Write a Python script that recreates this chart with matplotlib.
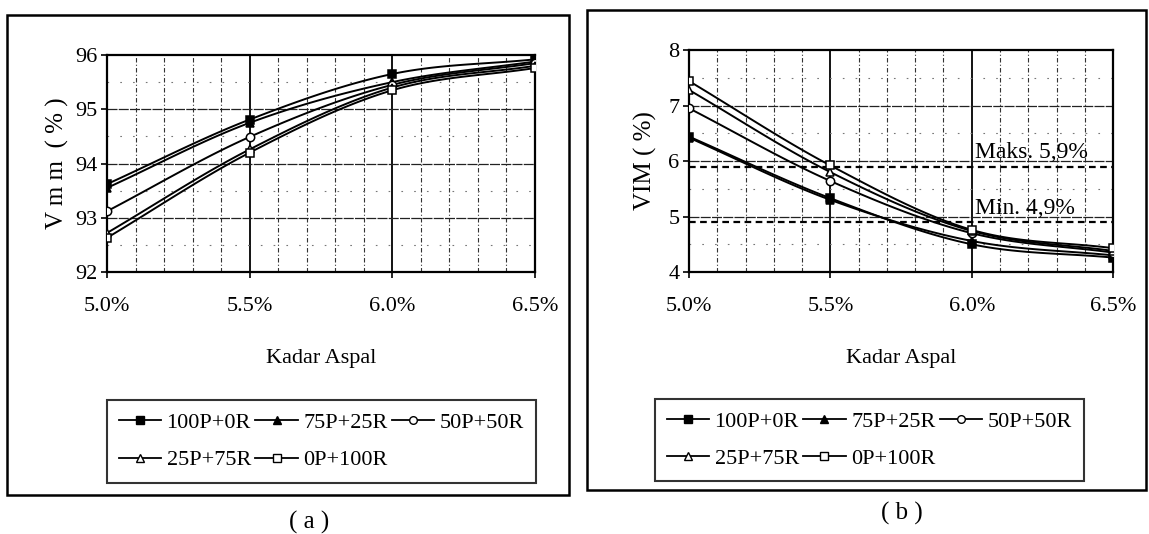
import numpy as np
import matplotlib
matplotlib.use("Agg")
import matplotlib.pyplot as plt
from matplotlib.patches import Rectangle

plt.rcParams['font.family'] = ['Liberation Serif', 'DejaVu Serif']

# Asphalt content (%)
kadar_aspal = [5.0, 5.5, 6.0, 6.5]
x_tick_labels = ["5.0%", "5.5%", "6.0%", "6.5%"]

series_names = ["100P+0R", "75P+25R", "50P+50R", "25P+75R", "0P+100R"]

# Vmm (%) per mix
vmm_100p_0r = [93.62, 94.81, 95.65, 95.92]
vmm_75p_25r = [93.55, 94.75, 95.50, 95.88]
vmm_50p_50r = [93.12, 94.49, 95.45, 95.85]
vmm_25p_75r = [92.72, 94.26, 95.40, 95.80]
vmm_0p_100r = [92.63, 94.20, 95.35, 95.76]

# VIM (%) per mix
vim_100p_0r = [6.44, 5.33, 4.50, 4.26]
vim_75p_25r = [6.42, 5.30, 4.56, 4.30]
vim_50p_50r = [6.95, 5.64, 4.70, 4.35]
vim_25p_75r = [7.28, 5.80, 4.74, 4.38]
vim_0p_100r = [7.44, 5.92, 4.76, 4.43]

vim_maks = 5.9
vim_min = 4.9

markers = [
    dict(marker='s', mfc='black'),
    dict(marker='^', mfc='black'),
    dict(marker='o', mfc='white'),
    dict(marker='^', mfc='white'),
    dict(marker='s', mfc='white'),
]


def smooth_curve(xs, ys, n=40):
    """Catmull-Rom style smoothed path through the data points."""
    xs = np.asarray(xs, float)
    ys = np.asarray(ys, float)
    px = np.concatenate([[2 * xs[0] - xs[1]], xs, [2 * xs[-1] - xs[-2]]])
    py = np.concatenate([[2 * ys[0] - ys[1]], ys, [2 * ys[-1] - ys[-2]]])
    out_x, out_y = [], []
    for i in range(1, len(px) - 2):
        t = np.linspace(0, 1, n, endpoint=(i == len(px) - 3))
        p0, p1, p2, p3 = py[i - 1], py[i], py[i + 1], py[i + 2]
        q0, q1, q2, q3 = px[i - 1], px[i], px[i + 1], px[i + 2]
        t2, t3 = t * t, t * t * t
        out_y.append(0.5 * (2 * p1 + (-p0 + p2) * t + (2 * p0 - 5 * p1 + 4 * p2 - p3) * t2
                            + (-p0 + 3 * p1 - 3 * p2 + p3) * t3))
        out_x.append(0.5 * (2 * q1 + (-q0 + q2) * t + (2 * q0 - 5 * q1 + 4 * q2 - q3) * t2
                            + (-q0 + 3 * q1 - 3 * q2 + q3) * t3))
    return np.concatenate(out_x), np.concatenate(out_y)


def style_axes(ax, ylim, yticks):
    ax.set_xlim(5.0, 6.5)
    ax.set_ylim(*ylim)
    ax.set_xticks(kadar_aspal)
    ax.set_xticklabels(x_tick_labels)
    ax.set_yticks(yticks)
    ax.tick_params(axis='both', labelsize=16, direction='out', length=4, width=1.2, color='black')
    ax.tick_params(axis='x', pad=14)
    ax.tick_params(axis='y', pad=3)
    for s in ax.spines.values():
        s.set_linewidth(1.6)
        s.set_color('black')
    # minor vertical grid every 0.1
    for xv in np.arange(5.1, 6.45, 0.1):
        if abs(xv - 5.5) < 1e-6 or abs(xv - 6.0) < 1e-6:
            continue
        ax.axvline(xv, color='#333333', lw=0.8, ls=(0, (4, 2, 1, 2)), zorder=1)
    for xv in [5.5, 6.0]:
        ax.axvline(xv, color='black', lw=1.3, zorder=1)
    # horizontal grid
    for yv in yticks[1:-1]:
        ax.axhline(yv, color='#222222', lw=0.9, ls=(0, (8, 1)), zorder=1)
    for yv in np.arange(ylim[0] + 0.5, ylim[1], 1.0):
        ax.axhline(yv, color='#777777', lw=0.8, ls=(0, (1.5, 10)), zorder=1)


def draw_series(ax, data):
    handles = []
    for ys, mk, name in zip(data, markers, series_names):
        sx, sy = smooth_curve(kadar_aspal, ys)
        ax.plot(sx, sy, color='black', lw=1.4, zorder=3)
        ax.plot(kadar_aspal, ys, ls='none', color='black', mec='black', ms=6,
                mew=1.1, zorder=4, **mk)
        h, = ax.plot([], [], color='black', lw=1.3, ms=5.5, mec='black', mew=1.0, **mk)
        handles.append(h)
    return handles


def add_legend(fig, ax, handles, center):
    order = [0, 3, 1, 4, 2]
    leg = ax.legend([handles[i] for i in order], [series_names[i] for i in order],
                    ncol=3, loc='center', bbox_to_anchor=center,
                    bbox_transform=fig.transFigure, fontsize=16, frameon=True,
                    fancybox=False, edgecolor='black', handlelength=1.9,
                    handletextpad=0.25, columnspacing=0.2, labelspacing=0.75,
                    borderpad=0.55, borderaxespad=0)
    leg.get_frame().set_linewidth(1.5)
    return leg


fig = plt.figure(figsize=(11.49, 5.34), dpi=100)

# outer frames around each panel
fig.add_artist(Rectangle((0.0061, 0.073), 0.489, 0.899, transform=fig.transFigure,
                         fill=False, lw=1.8, ec='black'))
fig.add_artist(Rectangle((0.5109, 0.0824), 0.4865, 0.899, transform=fig.transFigure,
                         fill=False, lw=1.8, ec='black'))

# Panel (a): Vmm
ax1 = fig.add_axes([0.0931, 0.4906, 0.3725, 0.4064])
style_axes(ax1, (92, 96), [92, 93, 94, 95, 96])
h1 = draw_series(ax1, [vmm_100p_0r, vmm_75p_25r, vmm_50p_50r, vmm_25p_75r, vmm_0p_100r])
ax1.set_ylabel("V m m  ( % )", fontsize=18, labelpad=4)
ax1.set_xlabel("Kadar Aspal", fontsize=16, labelpad=24)
add_legend(fig, ax1, h1, (0.2798, 0.1732))

# Panel (b): VIM
ax2 = fig.add_axes([0.5997, 0.4906, 0.369, 0.4157])
style_axes(ax2, (4, 8), [4, 5, 6, 7, 8])
h2 = draw_series(ax2, [vim_100p_0r, vim_75p_25r, vim_50p_50r, vim_25p_75r, vim_0p_100r])
for yv in [vim_maks, vim_min]:
    ax2.axhline(yv, color='black', lw=1.6, ls=(0, (3, 2)), zorder=2)
ax2.text(6.01, vim_maks + 0.06, "Maks. 5,9%", fontsize=17, ha='left', va='bottom', zorder=5)
ax2.text(6.01, vim_min + 0.06, "Min. 4,9%", fontsize=17, ha='left', va='bottom', zorder=5)
ax2.set_ylabel("VIM ( %)", fontsize=18, labelpad=8)
ax2.set_xlabel("Kadar Aspal", fontsize=16, labelpad=24)
add_legend(fig, ax2, h2, (0.7567, 0.176))

fig.text(0.269, 0.021, "( a )", fontsize=18, ha='center', va='center')
fig.text(0.785, 0.039, "( b )", fontsize=18, ha='center', va='center')

fig.savefig("out.png", dpi=100)
